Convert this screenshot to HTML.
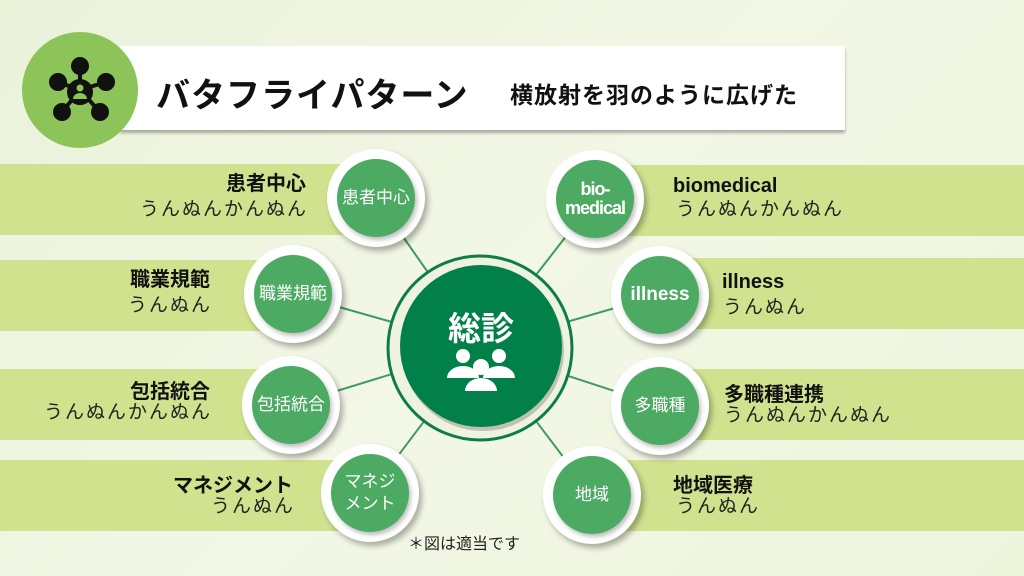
<!DOCTYPE html>
<html><head><meta charset="utf-8"><style>
body{margin:0;width:1024px;height:576px;overflow:hidden;background:linear-gradient(135deg,#eaf2da,#f3f7e6 50%,#edf4dc);font-family:"Liberation Sans","Noto Sans CJK JP",sans-serif;position:relative}
.band{position:absolute;background:#d1e28f;height:71px}
.t{position:absolute;font-weight:bold;font-size:20px;color:#111;line-height:24px}
.s{position:absolute;font-size:19px;color:#222;line-height:22px;letter-spacing:2px}
.r{text-align:right}
.node{position:absolute;width:98px;height:98px;border-radius:50%;background:#fff;box-shadow:3px 4px 6px rgba(0,0,0,.3)}
.node div{position:absolute;left:10px;top:10px;width:78px;height:78px;border-radius:50%;background:#4caa63;color:#fff;font-size:17px;display:flex;align-items:center;justify-content:center;text-align:center;line-height:22px;box-shadow:2px 3px 4px rgba(0,0,0,.25);white-space:nowrap}
</style></head><body>
<div class="band" style="left:0;top:164px;width:380px"></div>
<div class="band" style="left:0;top:260px;width:300px"></div>
<div class="band" style="left:0;top:369px;width:300px"></div>
<div class="band" style="left:0;top:460px;width:380px"></div>
<div class="band" style="left:600px;top:165px;width:424px"></div>
<div class="band" style="left:660px;top:258px;width:364px"></div>
<div class="band" style="left:660px;top:369px;width:364px"></div>
<div class="band" style="left:600px;top:460px;width:424px"></div>

<div style="position:absolute;left:120px;top:46px;width:725px;height:84px;background:#fff;box-shadow:0 3px 3px rgba(0,0,0,.3)"></div>
<div style="position:absolute;left:22px;top:32px;width:116px;height:116px;border-radius:50%;background:#8cc45a"></div>
<svg style="position:absolute;left:22px;top:32px" width="116" height="116">
<g stroke="#111" stroke-width="4" fill="#111">
<line x1="58" y1="58" x2="58" y2="34"/><line x1="58" y1="58" x2="36" y2="50"/><line x1="58" y1="58" x2="84" y2="50"/><line x1="58" y1="58" x2="40" y2="80"/><line x1="58" y1="58" x2="78" y2="80"/>
<circle cx="58" cy="34" r="7"/><circle cx="36" cy="50" r="7"/><circle cx="84" cy="50" r="7"/><circle cx="40" cy="80" r="7"/><circle cx="78" cy="80" r="7"/><circle cx="58" cy="60" r="11"/></g>
<circle cx="58" cy="56" r="3.5" fill="#8cc45a"/><path d="M51 67 a7 6 0 0 1 14 0z" fill="#8cc45a"/>
</svg>
<div style="position:absolute;left:156px;top:68px;font-size:34px;font-weight:bold;color:#111;letter-spacing:1px">バタフライパターン</div>
<div style="position:absolute;left:510px;top:76px;font-size:23px;font-weight:bold;color:#111;letter-spacing:1px">横放射を羽のように広げた</div>

<svg style="position:absolute;left:0;top:0" width="1024" height="576">
<g stroke="#3f9a5e" stroke-width="2">
<line x1="480" y1="347" x2="376" y2="198"/><line x1="480" y1="347" x2="293" y2="294"/><line x1="480" y1="347" x2="291" y2="405"/><line x1="480" y1="347" x2="370" y2="493"/>
<line x1="480" y1="347" x2="595" y2="199"/><line x1="480" y1="347" x2="660" y2="295"/><line x1="480" y1="347" x2="660" y2="406"/><line x1="480" y1="347" x2="592" y2="495"/>
</g>
<circle cx="480" cy="348" r="92" fill="#eef3df" stroke="#0d7d45" stroke-width="3"/>
<circle cx="483" cy="350" r="81" fill="rgba(0,0,0,.2)"/>
<circle cx="481" cy="346" r="81" fill="#02804a"/>
<g fill="#fff"><circle cx="463" cy="356" r="7"/><circle cx="499" cy="356" r="7"/><path d="M447 378 a16 12 0 0 1 32 0z"/><path d="M483 378 a16 12 0 0 1 32 0z"/><circle cx="481" cy="367" r="8"/><path d="M465 391 a16 13 0 0 1 32 0z"/></g>
<text x="481" y="340" fill="#fff" font-size="33" font-weight="bold" text-anchor="middle" font-family="Liberation Sans,Noto Sans CJK JP,sans-serif">総診</text>
</svg>

<div class="node" style="left:327px;top:149px"><div>患者中心</div></div>
<div class="node" style="left:244px;top:245px"><div>職業規範</div></div>
<div class="node" style="left:242px;top:356px"><div>包括統合</div></div>
<div class="node" style="left:321px;top:444px"><div>マネジ<br>メント</div></div>
<div class="node" style="left:546px;top:150px"><div style="font-size:18px;line-height:19px;font-weight:bold;letter-spacing:-1px">bio-<br>medical</div></div>
<div class="node" style="left:611px;top:246px"><div style="font-size:19px;font-weight:bold">illness</div></div>
<div class="node" style="left:611px;top:357px"><div>多職種</div></div>
<div class="node" style="left:543px;top:446px"><div>地域</div></div>

<div class="t r" style="right:718px;top:172px">患者中心</div>
<div class="s r" style="right:716px;top:199px">うんぬんかんぬん</div>
<div class="t r" style="right:814px;top:268px">職業規範</div>
<div class="s r" style="right:812px;top:295px">うんぬん</div>
<div class="t r" style="right:814px;top:380px">包括統合</div>
<div class="s r" style="right:812px;top:402px">うんぬんかんぬん</div>
<div class="t r" style="right:731px;top:474px">マネジメント</div>
<div class="s r" style="right:729px;top:496px">うんぬん</div>

<div class="t" style="left:673px;top:174px">biomedical</div>
<div class="s" style="left:676px;top:199px">うんぬんかんぬん</div>
<div class="t" style="left:722px;top:270px">illness</div>
<div class="s" style="left:723px;top:297px">うんぬん</div>
<div class="t" style="left:724px;top:383px">多職種連携</div>
<div class="s" style="left:724px;top:405px">うんぬんかんぬん</div>
<div class="t" style="left:673px;top:474px">地域医療</div>
<div class="s" style="left:676px;top:496px">うんぬん</div>

<div style="position:absolute;left:408px;top:530px;font-size:16px;color:#222">＊図は適当です</div>
</body></html>
